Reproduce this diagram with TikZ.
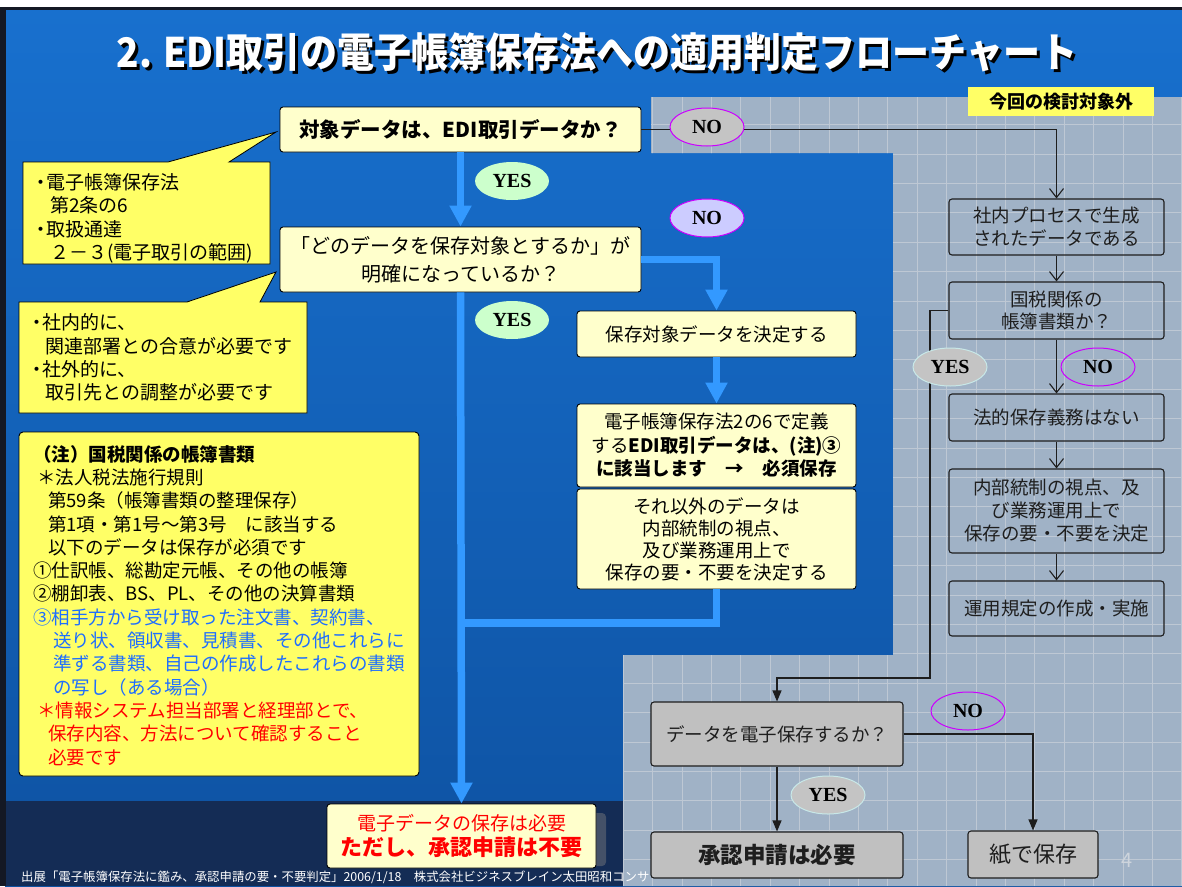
\documentclass[tikz,border=0pt]{standalone}
\usepackage{fontspec}
\setmainfont{Noto Sans CJK JP}
\newfontfamily\ynfont{Liberation Serif}
\usetikzlibrary{arrows.meta,shapes.geometric,calc}
\definecolor{boxy}{RGB}{255,255,204}
\definecolor{cally}{RGB}{255,255,102}
\definecolor{arrowblue}{RGB}{51,153,255}
\definecolor{bgtop}{RGB}{24,112,206}
\definecolor{bgmid}{RGB}{52,138,220}
\definecolor{bgbot}{RGB}{14,82,162}
\definecolor{navy}{RGB}{20,44,85}
\definecolor{frame}{RGB}{20,24,36}
\definecolor{grayregion}{RGB}{160,178,198}
\definecolor{gridline}{RGB}{190,200,212}
\definecolor{ovalgray}{RGB}{196,196,196}
\definecolor{ovalgreen}{RGB}{204,255,204}
\definecolor{ovallav}{RGB}{204,204,255}
\definecolor{mag}{RGB}{204,0,255}
\definecolor{paleedge}{RGB}{200,232,232}
\definecolor{noteblue}{RGB}{30,110,255}
\definecolor{boxgray}{RGB}{192,192,192}
\definecolor{darkline}{RGB}{30,30,30}
\definecolor{pagenum}{RGB}{205,212,220}
\newcommand{\myfs}[2]{\fontsize{#1}{#2}\selectfont}
\newcommand{\titletext}{2. EDI取引の電子帳簿保存法への適用判定フローチャート}
\begin{document}
\begin{tikzpicture}[x=1pt,y=-1pt,
  ybox/.style={draw=black,line width=0.9pt,fill=boxy,rounded corners=3pt,align=center,inner sep=0pt},
  gbox/.style={draw=darkline,line width=1.1pt,rounded corners=3pt,align=center,inner sep=0pt,text=darkline},
  oval/.style={ellipse,minimum width=74pt,minimum height=38pt,inner sep=0pt,font=\ynfont\bfseries\myfs{20}{20}},
  bluearrow/.style={draw=arrowblue,line width=7.5pt,-{Triangle[length=21pt,width=21pt]}},
  blueline/.style={draw=arrowblue,line width=7.5pt},
  openarrow/.style={draw=darkline,line width=1.1pt,-{Straight Barb[length=9pt,width=14pt]}},
  fillarrow/.style={draw=darkline,line width=1.1pt,-{Triangle[length=11pt,width=9pt]}},
]
\useasboundingbox (0,0) rectangle (1182,886);
% background
\fill[white] (0,0) rectangle (1182,886);
\shade[top color=bgtop, middle color=bgmid, bottom color=bgbot] (5,9) rectangle (1182,886);
\fill[frame] (0,7) rectangle (6,886);
\fill[frame] (0,7) rectangle (1182,10);
\fill[navy] (6,801) rectangle (623,886);
% gray region
\fill[grayregion] (651,97) -- (1182,97) -- (1182,886) -- (623,886) -- (623,655) -- (893,655) -- (893,153) -- (651,153) -- cycle;
\begin{scope}
\clip (651,97) -- (1182,97) -- (1182,886) -- (623,886) -- (623,655) -- (893,655) -- (893,153) -- (651,153) -- cycle;
\foreach \k in {-1,0,...,19} \draw[gridline,line width=0.6pt] ({652.5+29.4*\k},90) -- ({652.5+29.4*\k},886);
\foreach \k in {-21,-20,...,8} \draw[gridline,line width=0.6pt] (600,{683+29.4*\k}) -- (1182,{683+29.4*\k});
\end{scope}
\begin{scope}
\clip (0,860) rectangle (651,886);
\node[anchor=west,text=white,font=\myfs{12.4}{14},inner sep=0pt] (foot) at (21,877) {出展「電子帳簿保存法に鑑み、承認申請の要・不要判定」2006/1/18　株式会社ビジネスブレイン太田昭和コンサ};
\end{scope}
% title
\node[font=\bfseries\myfs{37}{37},inner sep=0pt] (title) at (597,54) {\scalebox{1}[1.1]{\makebox[0pt][l]{\hspace{3pt}\raisebox{-3pt}{\color{black}\titletext}}\textcolor{white}{\titletext}}};
\node[fill=cally,minimum width=186pt,minimum height=29pt,inner sep=0pt,font=\bfseries\myfs{18}{18}] (scopelabel) at (1061,101.5) {今回の検討対象外};
% callouts
\path[draw=black,line width=0.8pt,fill=cally] (23,162) -- (168,162) -- (276,132) -- (229,162) -- (270,162) -- (270,264) -- (23,264) -- cycle;
\node[anchor=north west,align=left,inner sep=0pt,font=\myfs{19}{23.3}] (call1) at (36,173.5) {\makebox[10pt][c]{・}電子帳簿保存法\\\hspace*{14pt}第2条の6\\\makebox[10pt][c]{・}取扱通達\\\hspace*{14pt}２－３(電子取引の範囲)};
\path[draw=black,line width=0.8pt,fill=cally] (19,302) -- (187,302) -- (276,272) -- (260,302) -- (307,302) -- (307,413) -- (19,413) -- cycle;
\node[anchor=north west,align=left,inner sep=0pt,font=\myfs{19}{23.3}] (call2) at (32,313.5) {\makebox[10pt][c]{・}社内的に、\\\hspace*{13pt}関連部署との合意が必要です\\\makebox[10pt][c]{・}社外的に、\\\hspace*{13pt}取引先との調整が必要です};
% note box
\draw[black,line width=0.9pt,fill=cally,rounded corners=4pt] (19,432) rectangle (419,776);
\node[anchor=north west,align=left,inner sep=0pt,font=\myfs{18.5}{23.3}] (note) at (33,445) {%
{\bfseries （注）国税関係の帳簿書類}\\
\hspace*{4pt}＊法人税法施行規則\\
\hspace*{15pt}第59条（帳簿書類の整理保存）\\
\hspace*{15pt}第1項・第1号～第3号　に該当する\\
\hspace*{15pt}以下のデータは保存が必須です\\
①仕訳帳、総勘定元帳、その他の帳簿\\
②棚卸表、BS、PL、その他の決算書類\\
{\color{noteblue}③相手方から受け取った注文書、契約書、}\\
{\color{noteblue}\hspace*{20pt}送り状、領収書、見積書、その他これらに}\\
{\color{noteblue}\hspace*{20pt}準ずる書類、自己の作成したこれらの書類}\\
{\color{noteblue}\hspace*{20pt}の写し（ある場合）}\\
{\color{red}\hspace*{4pt}＊情報システム担当部署と経理部とで、}\\
{\color{red}\hspace*{15pt}保存内容、方法について確認すること}\\
{\color{red}\hspace*{15pt}必要です}};
% main flow nodes
\node[ybox,minimum width=361pt,minimum height=45pt,font=\bfseries\myfs{20.5}{24}] (A) at (460.5,129.5) {対象データは、EDI取引データか？};
\node[ybox,minimum width=361pt,minimum height=65pt,font=\myfs{20}{28}] (B) at (460.5,259.5) {「どのデータを保存対象とするか」が\\明確になっているか？};
\node[ybox,minimum width=279pt,minimum height=46pt,font=\myfs{18.5}{22}] (C1) at (716.5,334) {保存対象データを決定する};
\node[ybox,minimum width=279pt,minimum height=83pt,font=\myfs{18.5}{23.5}] (C2) at (716.5,445.5) {電子帳簿保存法2の6で定義\\する{\bfseries EDI取引データは、(注)③}\\{\bfseries に該当します　→　必須保存}};
\node[ybox,minimum width=279pt,minimum height=100pt,font=\myfs{18.5}{22}] (C3) at (716.5,539) {それ以外のデータは\\内部統制の視点、\\及び業務運用上で\\保存の要・不要を決定する};
\fill[gray,opacity=0.45,rounded corners=4pt] (337,813) rectangle (606,866);
\node[ybox,minimum width=269pt,minimum height=64pt,text=red,font=\myfs{19}{25}] (G) at (461.5,836) {電子データの保存は必要\\{\bfseries\myfs{22}{25}ただし、承認申請は不要}};
% right column
\node[gbox,minimum width=215pt,minimum height=56pt,font=\myfs{18.5}{22.5}] (R1) at (1056.5,227) {社内プロセスで生成\\されたデータである};
\node[gbox,minimum width=215pt,minimum height=57pt,font=\myfs{18.5}{22.5}] (R2) at (1056.5,310.5) {国税関係の\\帳簿書類か？};
\node[gbox,minimum width=215pt,minimum height=47pt,font=\myfs{18.5}{22.5}] (R3) at (1056.5,417.5) {法的保存義務はない};
\node[gbox,minimum width=215pt,minimum height=84pt,font=\myfs{18.5}{23}] (R4) at (1056.5,511) {内部統制の視点、及\\び業務運用上で\\保存の要・不要を決定};
\node[gbox,minimum width=215pt,minimum height=55pt,font=\myfs{18.5}{22.5}] (R5) at (1056.5,608.5) {運用規定の作成・実施};
\node[gbox,fill=boxgray,minimum width=252pt,minimum height=64pt,font=\myfs{18.5}{22.5}] (D) at (777,734) {データを電子保存するか？};
\node[gbox,fill=boxgray,minimum width=252pt,minimum height=46pt,font=\bfseries\myfs{22.5}{24}] (E) at (777,855) {承認申請は必要};
\node[gbox,fill=boxgray,minimum width=130pt,minimum height=47pt,font=\myfs{22}{24}] (F) at (1033,854.5) {紙で保存};
\node[text=pagenum,font=\myfs{20}{20}] (pg) at (1127,860) {4};
% blue connectors
\coordinate (join) at (460.5,623);
\draw[bluearrow] (A.south) -- (B.north);
\draw[bluearrow] (B.south) -- (G.north);
\draw[bluearrow] (B.east) -| (C1.north);
\draw[bluearrow] (C1.south) -- (C2.north);
\draw[blueline] (C3.south) |- (join);
% black connectors
\coordinate (ybend) at (930,678);
\draw[openarrow] (A.east) -| (R1.north);
\draw[openarrow] (R1.south) -- (R2.north);
\draw[openarrow] (R2.south) -- (R3.north);
\draw[openarrow] (R3.south) -- (R4.north);
\draw[openarrow] (R4.south) -- (R5.north);
\draw[fillarrow] (R2.west) -| (ybend) -| (D.north);
\draw[fillarrow] (D.south) -- (E.north);
\draw[fillarrow] (D.east) -| (F.north);
% ovals
\node[oval,fill=ovalgreen] (yes1) at (512,181) {YES};
\node[oval,fill=ovalgreen] (yes2) at (512,320) {YES};
\node[oval,fill=ovalgray,draw=mag,line width=1pt] (no1) at (707,127) {NO};
\node[oval,fill=ovallav,draw=mag,line width=1pt] (no2) at (707,218) {NO};
\node[oval,fill=ovalgray,draw=paleedge,line width=1pt] (yes3) at (950,367) {YES};
\node[oval,draw=mag,line width=1pt] (no3) at (1098,367) {NO};
\node[oval,draw=mag,line width=1pt] (no4) at (968,711) {NO};
\node[oval,fill=ovalgray,draw=paleedge,line width=1pt] (yes4) at (828,795) {YES};
\end{tikzpicture}
\end{document}
